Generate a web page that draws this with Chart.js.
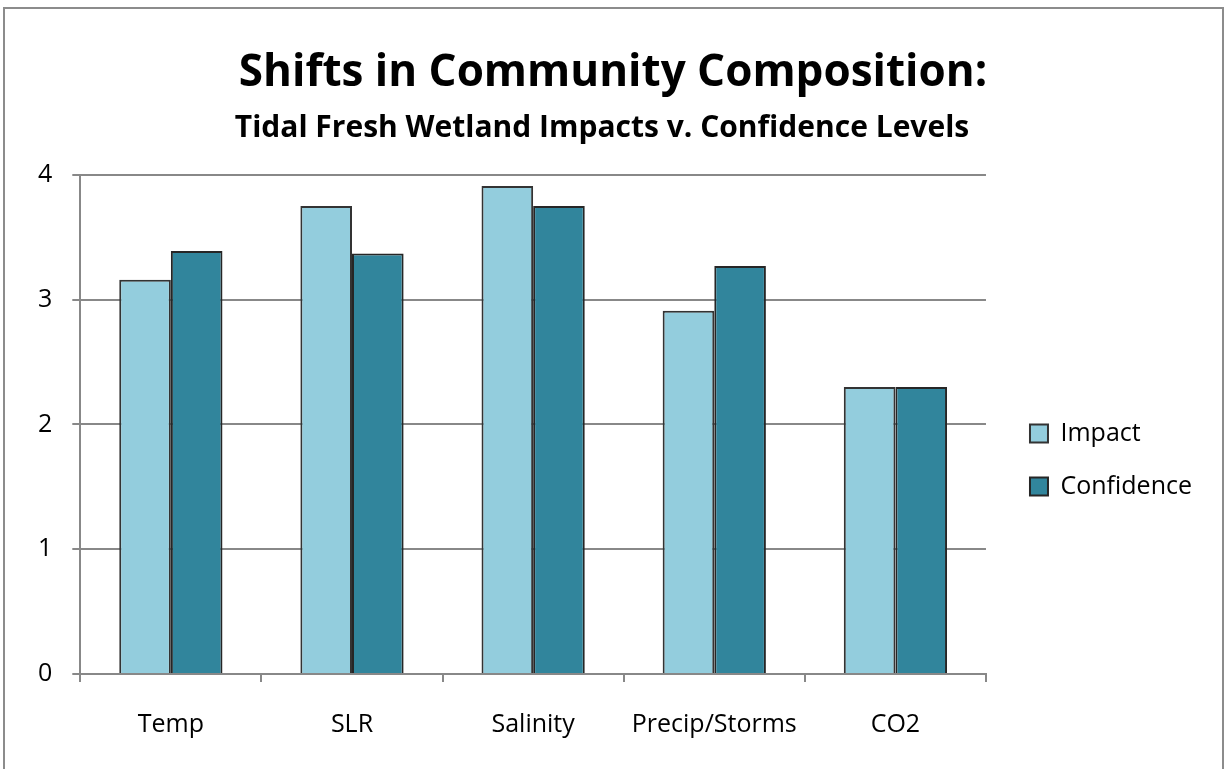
<!DOCTYPE html>
<html>
<head>
<meta charset="utf-8">
<script src="https://cdn.jsdelivr.net/npm/chart.js@4"></script>
<style>
  body { margin: 0; background: #fff; }
  #frame { position: absolute; left: 3px; top: 7px; width: 1217px; height: 800px; border: 2px solid #8c8c8c; }
  #wrap { position: absolute; left: 0; top: 0; width: 1224px; height: 769px; }
</style>
</head>
<body>
<div id="frame"></div>
<div id="wrap"><canvas id="chart"></canvas></div>
<script>
// categories and values
let categories = ['Temp', 'SLR', 'Salinity', 'Precip/Storms', 'CO2'];
let impact = [3.16, 3.75, 3.91, 2.91, 2.3];
let confidence = [3.39, 3.37, 3.75, 3.27, 2.3];
let yTicks = [0, 1, 2, 3, 4];

let font = '"Open Sans", Lato, sans-serif';

// nudge the legend a bit away from the plot, and the title a bit right, like the original
let layoutNudge = {
    id: 'layoutNudge',
    afterLayout(chart) {
        let lg = chart.legend;
        let dx = chart.chartArea.right + 16 - lg.left;
        let dy = 66;
        lg.left += dx; lg.right += dx;
        lg.top += dy; lg.bottom += dy;
        chart.titleBlock.left += 11;
        chart.titleBlock.right += 11;
    }
};

var ctx = document.getElementById('chart').getContext('2d');
let chart = new Chart(ctx, {
    type: 'bar',
    data: {
        labels: categories,
        datasets: [{
            label: 'Impact',
            data: impact,
            backgroundColor: '#93cddd',
            borderColor: '#333333',
            borderWidth: 2
        }, {
            label: 'Confidence',
            data: confidence,
            backgroundColor: '#31859c',
            borderColor: '#262626',
            borderWidth: 2
        }]
    },
    options: {
        responsive: true,
        maintainAspectRatio: false,
        animation: false,
        layout: { padding: { left: 18, right: 38, top: 20, bottom: 1 } },
        datasets: { bar: { categoryPercentage: 0.57, barPercentage: 1 } },
        plugins: {
            title: {
                display: true,
                text: 'Shifts in Community Composition:',
                color: '#000',
                font: { family: font, size: 44, weight: 'bold' },
                padding: { top: 27, bottom: 11 }
            },
            subtitle: {
                display: true,
                text: 'Tidal Fresh Wetland Impacts v. Confidence Levels',
                color: '#000',
                font: { family: font, size: 30, weight: 'bold' },
                padding: { top: 0, bottom: 28 }
            },
            legend: {
                position: 'right',
                labels: {
                    color: '#000',
                    font: { family: font, size: 25 },
                    boxWidth: 18,
                    boxHeight: 18,
                    padding: 28
                }
            },
            tooltip: { enabled: false }
        },
        scales: {
            x: {
                grid: { display: true, drawOnChartArea: false, drawTicks: true, tickLength: 8, color: '#888', lineWidth: 2, offset: true },
                border: { color: '#888', width: 2 },
                ticks: { color: '#000', font: { family: font, size: 25 }, padding: 28 }
            },
            y: {
                min: 0,
                max: 4,
                afterBuildTicks: function (axis) { axis.ticks = yTicks.map(v => ({ value: v })); },
                grid: { color: '#888', lineWidth: 2, tickLength: 8 },
                border: { color: '#888', width: 2 },
                ticks: { color: '#000', font: { family: font, size: 25 }, padding: 20 }
            }
        }
    },
    plugins: [layoutNudge]
});
</script>
</body>
</html>
